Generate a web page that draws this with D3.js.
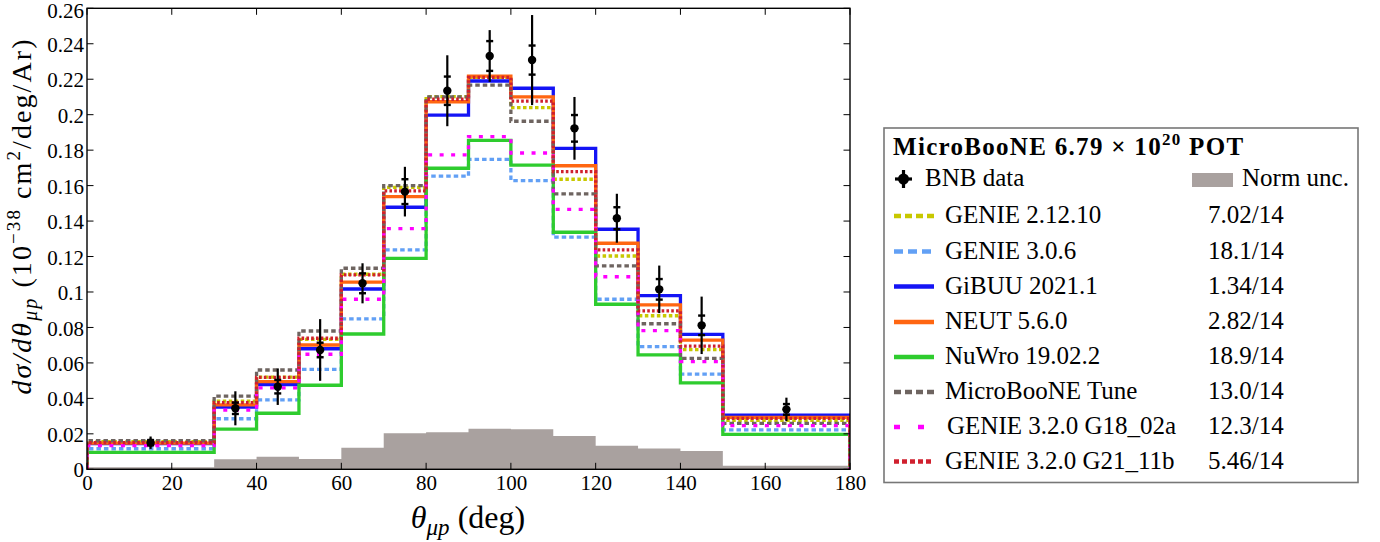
<!DOCTYPE html>
<html><head><meta charset="utf-8">
<script src="https://cdn.jsdelivr.net/npm/d3@7"></script>
<style>
html,body{margin:0;padding:0;background:#fff;}
svg text{font-family:"Liberation Serif","DejaVu Serif",serif;fill:#000;}
</style></head>
<body><svg id="c" width="1380" height="542"></svg>
<script>
// ---- data ----
const binEdges = [0,30,40,50,60,70,80,90,100,110,120,130,140,150,180];
const xTicks = [0,20,40,60,80,100,120,140,160,180];
const yTicks = [0,0.02,0.04,0.06,0.08,0.1,0.12,0.14,0.16,0.18,0.2,0.22,0.24,0.26];
const yTickLabels = ["0","0.02","0.04","0.06","0.08","0.1","0.12","0.14","0.16","0.18","0.2","0.22","0.24","0.26"];

const genie2  = [0.0156,0.0385,0.0520,0.0733,0.1100,0.1590,0.2102,0.2210,0.2040,0.1636,0.1203,0.0866,0.0675,0.0276];
const genie306= [0.0116,0.0285,0.0391,0.0564,0.0848,0.1237,0.1654,0.1748,0.1628,0.1309,0.0959,0.0692,0.0537,0.0222];
const gibuu   = [0.0145,0.0351,0.0477,0.0680,0.1017,0.1478,0.1998,0.2190,0.2149,0.1810,0.1354,0.0979,0.0761,0.0305];
const neut    = [0.0148,0.0363,0.0494,0.0701,0.1056,0.1538,0.2073,0.2218,0.2100,0.1712,0.1275,0.0927,0.0728,0.0293];
const nuwro   = [0.0096,0.0227,0.0316,0.0474,0.0763,0.1190,0.1698,0.1855,0.1716,0.1337,0.0931,0.0645,0.0487,0.0197];
const tune    = [0.0161,0.0413,0.0560,0.0780,0.1134,0.1600,0.2100,0.2167,0.1963,0.1553,0.1147,0.0821,0.0626,0.0259];
const g18     = [0.0133,0.0334,0.0459,0.0649,0.0959,0.1357,0.1773,0.1876,0.1784,0.1466,0.1086,0.0782,0.0607,0.0246];
const g21     = [0.0150,0.0376,0.0519,0.0739,0.1096,0.1570,0.2087,0.2210,0.2077,0.1679,0.1237,0.0893,0.0695,0.0287];

const dataVals = [0.0150,0.0344,0.0466,0.0673,0.1049,0.1566,0.2135,0.2331,0.2308,0.1923,0.1416,0.1015,0.0812,0.0338];
const statErr  = [0.0015,0.0032,0.0038,0.0041,0.0056,0.0070,0.0080,0.0084,0.0082,0.0075,0.0062,0.0058,0.0055,0.0030];
const totErr   = [0.0035,0.0096,0.0103,0.0174,0.0113,0.0140,0.0200,0.0146,0.0254,0.0177,0.0138,0.0134,0.0162,0.0066];
const normUnc  = [0.0012,0.0056,0.0071,0.0058,0.0122,0.0203,0.0209,0.0229,0.0226,0.0188,0.0133,0.0118,0.0103,0.0020];

const seriesNames = ["GENIE 2.12.10","GENIE 3.0.6","GiBUU 2021.1","NEUT 5.6.0","NuWro 19.02.2","MicroBooNE Tune","GENIE 3.2.0 G18_02a","GENIE 3.2.0 G21_11b"];
const seriesVals  = [genie2,genie306,gibuu,neut,nuwro,tune,g18,g21];
const chi2Labels  = ["7.02/14","18.1/14","1.34/14","2.82/14","18.9/14","13.0/14","12.3/14","5.46/14"];

// ---- styles ----
const seriesStyle = [
  {c:"#c8c800", dash:"3.5,2.5", ldash:"7,4"},
  {c:"#62a0f5", dash:"4.5,3",   ldash:"9,5"},
  {c:"#1414f5", dash:null,      ldash:null},
  {c:"#ff6611", dash:null,      ldash:null},
  {c:"#2ecc2e", dash:null,      ldash:null},
  {c:"#6e6460", dash:"4.5,3",   ldash:"7,4"},
  {c:"#ff00ff", dash:"4,7.5",   ldash:"6,18"},
  {c:"#d0202e", dash:"2.6,2.2", ldash:"5,3"}
];

const svg = d3.select("#c");
const L = 87, R = 850, T = 8.3, B = 469.3;
const x = d3.scaleLinear().domain([0,180]).range([L,R]);
const y = d3.scaleLinear().domain([0,0.26]).range([B,T]);

const g = svg.append("g");
svg.append("clipPath").attr("id","pc").append("rect")
  .attr("x",L).attr("y",T).attr("width",R-L).attr("height",B-T);

function stepArea(vals){
  const pts=[[binEdges[0],0]];
  vals.forEach((v,i)=>{pts.push([binEdges[i],v]);pts.push([binEdges[i+1],v]);});
  pts.push([binEdges[binEdges.length-1],0]);
  return pts;
}
const lg = d3.line().x(d=>x(d[0])).y(d=>y(d[1]));

// norm unc filled histogram
g.append("path").attr("d", lg(stepArea(normUnc))+"Z")
  .attr("fill","#a9a19f").attr("stroke","none").attr("clip-path","url(#pc)");

// model histograms
seriesVals.forEach((vals,k)=>{
  const st = seriesStyle[k];
  g.append("path").attr("d", lg(stepArea(vals)))
    .attr("fill","none").attr("stroke",st.c).attr("stroke-width",3.3)
    .attr("stroke-dasharray", st.dash).attr("stroke-linejoin","miter")
    .attr("clip-path","url(#pc)");
});

// data points
const centers = binEdges.slice(0,-1).map((e,i)=>(e+binEdges[i+1])/2);
const dg = g.append("g");
dataVals.forEach((v,i)=>{
  const cx = x(centers[i]);
  dg.append("line").attr("x1",cx).attr("x2",cx).attr("y1",y(v-totErr[i])).attr("y2",y(v+totErr[i]))
    .attr("stroke","#000").attr("stroke-width",2.2);
  [v-statErr[i], v+statErr[i]].forEach(e=>{
    dg.append("line").attr("x1",cx-3.5).attr("x2",cx+3.5).attr("y1",y(e)).attr("y2",y(e))
      .attr("stroke","#000").attr("stroke-width",2.4);
  });
  dg.append("circle").attr("cx",cx).attr("cy",y(v)).attr("r",4.2).attr("fill","#000");
});

// frame
g.append("rect").attr("x",L).attr("y",T).attr("width",R-L).attr("height",B-T)
  .attr("fill","none").attr("stroke","#000").attr("stroke-width",1.4);

// axes with ticks inside
const tl = 6.5;
const xa = d3.axisBottom(x).tickValues(xTicks).tickSize(0).tickPadding(0).tickFormat(d3.format("d"));
const xg = svg.append("g").attr("transform",`translate(0,${B})`).call(xa);
xg.select(".domain").remove();
xg.selectAll("text").attr("dy",null).attr("y",21).style("font-size","21px");
xTicks.forEach(t=>{
  svg.append("line").attr("x1",x(t)).attr("x2",x(t)).attr("y1",B).attr("y2",B-tl).attr("stroke","#000").attr("stroke-width",1);
  svg.append("line").attr("x1",x(t)).attr("x2",x(t)).attr("y1",T).attr("y2",T+tl).attr("stroke","#000").attr("stroke-width",1);
});
const ya = d3.axisLeft(y).tickValues(yTicks).tickSize(0).tickPadding(3).tickFormat((d,i)=>yTickLabels[i]);
const yg = svg.append("g").attr("transform",`translate(${L},0)`).call(ya);
yg.select(".domain").remove();
yg.selectAll("text").attr("dy","0.36em").style("font-size","21px");
yg.selectAll(".tick").filter(d=>d===0.26).select("text").attr("dy","0.45em");
yTicks.forEach(t=>{
  svg.append("line").attr("x1",L).attr("x2",L+tl).attr("y1",y(t)).attr("y2",y(t)).attr("stroke","#000").attr("stroke-width",1);
  svg.append("line").attr("x1",R).attr("x2",R-tl).attr("y1",y(t)).attr("y2",y(t)).attr("stroke","#000").attr("stroke-width",1);
});

// axis titles
const xt = svg.append("text").attr("x",468).attr("y",528).attr("text-anchor","middle").style("font-size","32px");
xt.append("tspan").style("font-style","italic").text("θ");
xt.append("tspan").style("font-style","italic").style("font-size","23px").attr("dy",7).text("μp");
xt.append("tspan").attr("dy",-7).text(" (deg)");

const yt = svg.append("text").attr("transform","translate(31,216) rotate(-90)").attr("text-anchor","middle").style("font-size","28px");
yt.append("tspan").style("font-style","italic").text("dσ/dθ");
yt.append("tspan").style("font-style","italic").style("font-size","20px").attr("dy",6).text("μp");
yt.append("tspan").attr("dy",-6).text(" (10");
yt.append("tspan").style("font-size","19px").attr("dy",-11).text("−38");
yt.append("tspan").attr("dy",11).text(" cm");
yt.append("tspan").style("font-size","19px").attr("dy",-11).text("2");
yt.append("tspan").attr("dy",11).text("/deg/Ar)");
// stretch the title to the reference length
(function(){
  const target = 357;
  const w = yt.node().getComputedTextLength();
  const n = yt.text().length;
  if (w < target) yt.style("letter-spacing", ((target - w) / n).toFixed(2) + "px");
})();

// legend
const lx0 = 884, ly0 = 128, lx1 = 1358, ly1 = 482.5;
svg.append("rect").attr("x",lx0).attr("y",ly0).attr("width",lx1-lx0).attr("height",ly1-ly0)
  .attr("fill","#fff").attr("stroke","#777").attr("stroke-width",1.6);
const title = svg.append("text").attr("x",893).attr("y",155).style("font-size","25px")
  .style("font-weight","bold").style("letter-spacing","1.3px");
title.append("tspan").text("MicroBooNE 6.79 × 10");
title.append("tspan").style("font-size","17px").attr("dy",-10).text("20");
title.append("tspan").attr("dy",10).text(" POT");

// BNB data entry
const by = 179;
svg.append("line").attr("x1",895).attr("x2",912).attr("y1",by).attr("y2",by).attr("stroke","#000").attr("stroke-width",3.2);
svg.append("line").attr("x1",903.5).attr("x2",903.5).attr("y1",by-9).attr("y2",by+9).attr("stroke","#000").attr("stroke-width",3.2);
svg.append("circle").attr("cx",903.5).attr("cy",by).attr("r",5.5).attr("fill","#000");
svg.append("text").attr("x",925).attr("y",186).style("font-size","25px").text("BNB data");
svg.append("rect").attr("x",1192).attr("y",173).attr("width",41).attr("height",14).attr("fill","#a9a19f");
svg.append("text").attr("x",1242).attr("y",186).style("font-size","25px").text("Norm unc.");

const rowBase = [223,258.5,293.5,329,364,399,434,468.5];
seriesNames.forEach((n,k)=>{
  const st = seriesStyle[k];
  const yy = rowBase[k]-7;
  svg.append("line").attr("x1",894).attr("x2",934).attr("y1",yy).attr("y2",yy)
    .attr("stroke",st.c).attr("stroke-width",4.5).attr("stroke-dasharray",st.ldash);
  svg.append("text").attr("x", k===6?947:945).attr("y",rowBase[k]).style("font-size","25px").text(n);
  svg.append("text").attr("x",1208).attr("y",rowBase[k]).style("font-size","25px").text(chi2Labels[k]);
});
</script></body></html>
